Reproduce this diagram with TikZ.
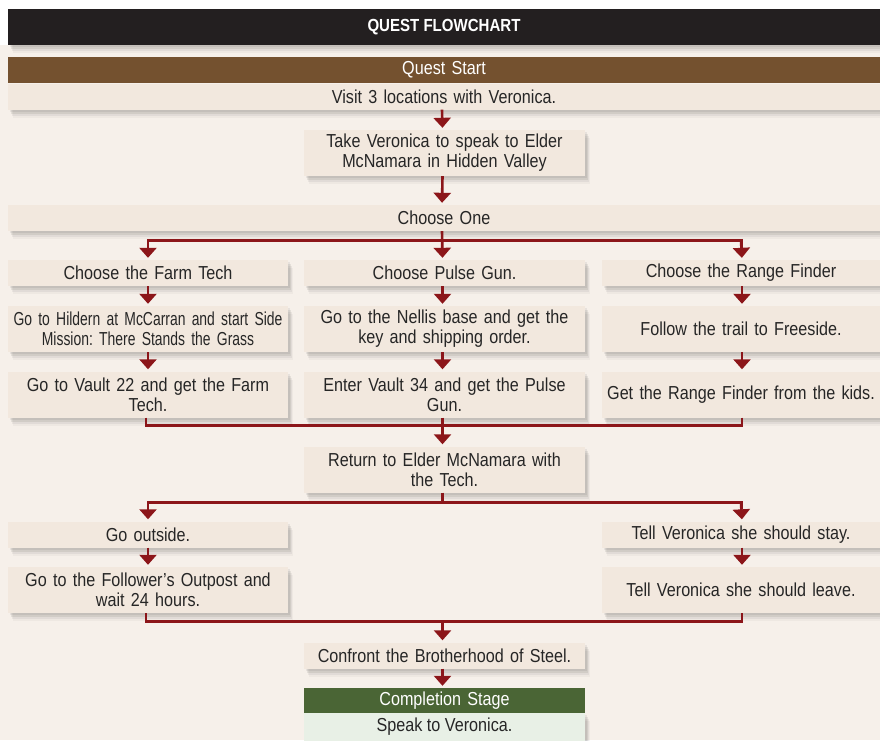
\documentclass[tikz,border=0pt]{standalone}
\usepackage{fontspec}
\setmainfont{Liberation Sans}[FakeStretch=0.86]
\newfontfamily\tightfont{Liberation Sans}[FakeStretch=0.74]
\usetikzlibrary{arrows.meta,shadows,calc}
\definecolor{bgc}{RGB}{246,240,234}
\definecolor{boxc}{RGB}{242,232,222}
\definecolor{titlec}{RGB}{35,31,32}
\definecolor{brownc}{RGB}{116,81,47}
\definecolor{greenc}{RGB}{74,101,53}
\definecolor{lgreenc}{RGB}{232,240,230}
\definecolor{arrc}{RGB}{140,22,26}
\definecolor{textc}{RGB}{38,38,38}
\begin{document}
\frenchspacing
\begin{tikzpicture}[x=1pt,y=1pt,
  shad/.style={
    drop shadow={shadow xshift=2pt,shadow yshift=-2pt,fill=black,opacity=0.06},
    drop shadow={shadow xshift=3pt,shadow yshift=-4pt,fill=black,opacity=0.07},
    drop shadow={shadow xshift=4pt,shadow yshift=-6pt,fill=black,opacity=0.05},
    drop shadow={shadow xshift=5pt,shadow yshift=-8pt,fill=black,opacity=0.03}},
  box/.style={fill=boxc,inner sep=0pt,align=center,text=textc,shad,
    font=\fontsize{18.8}{20}\selectfont},
  colL/.style={minimum width=280pt,text width=276pt},
  colM/.style={minimum width=281pt,text width=277pt},
  colR/.style={minimum width=278pt,text width=274pt},
  full/.style={minimum width=872pt,text width=860pt},
  h1/.style={minimum height=26pt},
  h2/.style={minimum height=46pt},
  hdr/.style={inner sep=0pt,align=center,text=white,font=\fontsize{18.8}{20}\selectfont},
  line/.style={draw=arrc,line width=2.6pt},
  arr/.style={line,-{Triangle[width=17pt,length=10pt]},shorten >=2pt}
]
\useasboundingbox (0,0) rectangle (880,-740);
\fill[white] (0,0) rectangle (880,-740);
\fill[bgc] (0,-45) rectangle (880,-740);

% title
\node[fill=titlec,minimum width=872pt,minimum height=36pt,inner sep=0pt,text=white,
  font=\fontsize{17.5}{20}\selectfont\bfseries,shad] (title) at (444,-27) {QUEST FLOWCHART};

% quest start block
\node[box,full,h1] (visit) at (444,-96.5) {Visit 3 locations with Veronica.};
\node[hdr,fill=brownc,full,h1] (qstart) at (444,-70) {Quest Start};

\node[box,colM,h2] (take) at (444.5,-153) {Take Veronica to speak to Elder\\McNamara in Hidden Valley};
\node[box,full,h1] (choose) at (444,-218) {Choose One};

% columns
\node[box,colL,h1] (l1) at (148,-273) {Choose the Farm Tech};
\node[box,colM,h1] (m1) at (444.5,-273) {Choose Pulse Gun.};
\node[box,colR,h1] (r1) at (741,-273) {Choose the Range Finder};

\node[box,colL,h2] (l2) at (148,-329) {\tightfont Go to Hildern at McCarran and start Side\\Mission: There Stands the Grass};
\node[box,colM,h2] (m2) at (444.5,-329) {Go to the Nellis base and get the\\key and shipping order.};
\node[box,colR,h2] (r2) at (741,-329) {Follow the trail to Freeside.};

\node[box,colL,h2] (l3) at (148,-394.5) {Go to Vault 22 and get the Farm\\Tech.};
\node[box,colM,h2] (m3) at (444.5,-394.5) {Enter Vault 34 and get the Pulse\\Gun.};
\node[box,colR,h2] (r3) at (741,-394.5) {Get the Range Finder from the kids.};

\node[box,colM,h2] (ret) at (444.5,-469.5) {Return to Elder McNamara with\\the Tech.};

\node[box,colL,h1] (out) at (148,-534.5) {Go outside.};
\node[box,colR,h1] (stay) at (741,-534.5) {Tell Veronica she should stay.};
\node[box,colL,h2] (fol) at (148,-590) {Go to the Follower’s Outpost and\\wait 24 hours.};
\node[box,colR,h2] (leave) at (741,-590) {Tell Veronica she should leave.};

\node[box,colM,h1] (conf) at (444.5,-655.5) {Confront the Brotherhood of Steel.};

\node[fill=lgreenc,inner sep=0pt,text=textc,font=\fontsize{18.8}{20}\selectfont,
  minimum width=281pt,minimum height=28pt,shad] (speak) at (444.5,-727) {Speak to Veronica.};
\node[hdr,fill=greenc,colM,minimum height=25pt] (comp) at (444.5,-700.5) {Completion Stage};

% coordinates
\coordinate (j1) at ($(choose.south)+(-2,-9)$);
\coordinate (j2) at ($(m3.south)+(-2,-8)$);
\coordinate (j3) at ($(ret.south)+(-2,-10)$);
\coordinate (j4) at ($(conf.north)+(-2,21)$);

% connectors
\draw[arr] ($(visit.south)+(-2,0)$) -- ($(take.north)+(-2,0)$);
\draw[arr] ($(take.south)+(-2,0)$) -- ($(choose.north)+(-2,0)$);

\draw[line] (j1) -| ($(l1.north)+(0,12)$);
\draw[line] (j1) -| ($(r1.north)+(1,12)$);
\draw[arr] (j1 -| l1.north) -- (l1.north);
\draw[arr] (j1 -| r1.north) -- ($(r1.north)+(1,0)$);
\draw[arr] ($(choose.south)+(-2,0)$) -- ($(m1.north)+(-2,0)$);

\draw[arr] (l1.south) -- (l2.north);
\draw[arr] (l2.south) -- (l3.north);
\draw[arr] ($(m1.south)+(-2,0)$) -- ($(m2.north)+(-2,0)$);
\draw[arr] ($(m2.south)+(-2,0)$) -- ($(m3.north)+(-2,0)$);
\draw[arr] ($(r1.south)+(1,0)$) -- ($(r2.north)+(1,0)$);
\draw[arr] ($(r2.south)+(1,0)$) -- ($(r3.north)+(1,0)$);

\draw[line] ($(l3.south)+(-2,0)$) |- (j2);
\draw[line] ($(r3.south)+(1,0)$) |- (j2);
\draw[arr] ($(m3.south)+(-2,0)$) -- ($(ret.north)+(-2,0)$);

\draw[line] ($(ret.south)+(-2,0)$) -- (j3);
\draw[line] (j3) -| ($(out.north)+(0,12)$);
\draw[line] (j3) -| ($(stay.north)+(1,12)$);
\draw[arr] (j3 -| out.north) -- (out.north);
\draw[arr] (j3 -| stay.north) -- ($(stay.north)+(1,0)$);

\draw[arr] (out.south) -- (fol.north);
\draw[arr] ($(stay.south)+(1,0)$) -- ($(leave.north)+(1,0)$);

\draw[line] ($(fol.south)+(-2,0)$) |- (j4);
\draw[line] ($(leave.south)+(1,0)$) |- (j4);
\draw[arr] (j4) -- ($(conf.north)+(-2,0)$);
\draw[arr] ($(conf.south)+(-2,0)$) -- ($(comp.north)+(-2,0)$);
\end{tikzpicture}
\end{document}
